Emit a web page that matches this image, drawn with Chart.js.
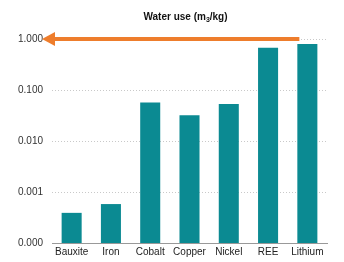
<!DOCTYPE html>
<html>
<head>
<meta charset="utf-8">
<script src="https://cdn.jsdelivr.net/npm/chart.js@4"></script>
<style>
  html, body { margin: 0; padding: 0; background: #fff; }
  #wrap { width: 344px; height: 262px; }
</style>
</head>
<body>
<div id="wrap"><canvas id="myChart"></canvas></div>
<script>
// values (log axis)
const materials = ['Bauxite', 'Iron', 'Cobalt', 'Copper', 'Nickel', 'REE', 'Lithium'];
const waterUse = [0.00039, 0.00058, 0.057, 0.032, 0.053, 0.67, 0.80];
const yTicks = [0.0001, 0.001, 0.01, 0.1, 1];
const arrowLevel = 1;
const titleParts = ['Water use (m', '3', '/kg)'];

// orange arrow pointing at the 1.000 line
const arrowPlugin = {
  id: 'arrow',
  afterDatasetsDraw(chart) {
    const ctx = chart.ctx;
    const y = chart.scales.y.getPixelForValue(arrowLevel);
    const x0 = chart.scales.x.getPixelForValue(materials.length - 1) - 8;
    const x1 = chart.scales.y.right - 10;
    ctx.save();
    ctx.strokeStyle = '#ee7d2c';
    ctx.fillStyle = '#ee7d2c';
    ctx.lineWidth = 4;
    ctx.beginPath();
    ctx.moveTo(x0, y);
    ctx.lineTo(x1 + 10, y);
    ctx.stroke();
    ctx.beginPath();
    ctx.moveTo(x1, y);
    ctx.lineTo(x1 + 13, y - 7);
    ctx.lineTo(x1 + 13, y + 7);
    ctx.closePath();
    ctx.fill();
    ctx.restore();
  }
};

// title with a subscript 3
const titlePlugin = {
  id: 'subTitle',
  afterDraw(chart) {
    const ctx = chart.ctx;
    const big = 'bold 10px Liberation Sans, Arial';
    const small = 'bold 7px Liberation Sans, Arial';
    ctx.save();
    ctx.fillStyle = '#111';
    ctx.textBaseline = 'alphabetic';
    ctx.font = big;
    const w0 = ctx.measureText(titleParts[0]).width;
    const w2 = ctx.measureText(titleParts[2]).width;
    ctx.font = small;
    const w1 = ctx.measureText(titleParts[1]).width;
    let x = (chart.chartArea.left + chart.chartArea.right) / 2 - (w0 + w1 + w2) / 2 - 4;
    const y = 20;
    ctx.font = big;
    ctx.fillText(titleParts[0], x, y);
    x += w0;
    ctx.font = small;
    ctx.fillText(titleParts[1], x, y + 2);
    x += w1;
    ctx.font = big;
    ctx.fillText(titleParts[2], x, y);
    ctx.restore();
  }
};

let mychart = new Chart(document.getElementById('myChart'), {
  type: 'bar',
  data: {
    labels: materials,
    datasets: [{
      data: waterUse,
      backgroundColor: '#0b8a92',
      barPercentage: 0.51,
      categoryPercentage: 1
    }]
  },
  plugins: [arrowPlugin, titlePlugin],
  options: {
    responsive: true,
    maintainAspectRatio: false,
    animation: false,
    layout: { padding: { left: 0, right: 17, top: 39, bottom: 0 } },
    plugins: {
      legend: { display: false },
      tooltip: { enabled: false },
      title: { display: false }
    },
    scales: {
      y: {
        type: 'logarithmic',
        min: 0.0001,
        max: 1,
        afterBuildTicks(scale) {
          scale.ticks = yTicks.map(v => ({ value: v }));
        },
        afterFit(scale) { scale.width = 52; },
        ticks: {
          color: '#333',
          font: { family: 'Liberation Sans, Arial', size: 10 },
          padding: 9,
          callback: v => Number(v).toFixed(3)
        },
        grid: {
          color: '#c9c9c9',
          drawTicks: false
        },
        border: { display: false, dash: [1, 2] }
      },
      x: {
        grid: { display: false, drawTicks: false },
        border: { color: '#999', width: 1 },
        afterFit(scale) { scale.height = 19; },
        ticks: {
          color: '#222',
          font: { family: 'Liberation Sans, Arial', size: 10 },
          padding: 3,
          maxRotation: 0,
          autoSkip: false
        }
      }
    }
  }
});
</script>
</body>
</html>
